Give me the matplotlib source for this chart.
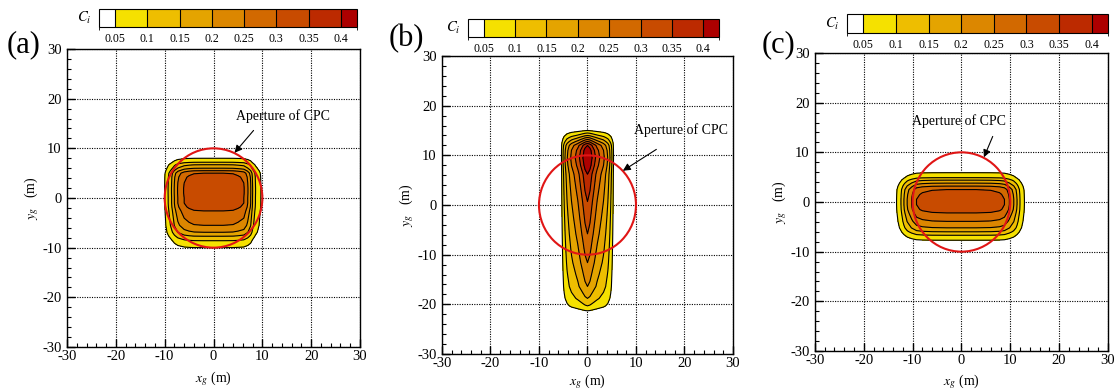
import matplotlib
matplotlib.use('Agg')
import matplotlib.pyplot as plt
import matplotlib as mpl
import numpy as np
from matplotlib.colors import ListedColormap, BoundaryNorm
from matplotlib.patches import Circle
from matplotlib.ticker import MultipleLocator

plt.rcParams['font.family'] = 'Liberation Serif'
plt.rcParams['mathtext.fontset'] = 'stix'
plt.rcParams['axes.unicode_minus'] = False

# contour levels of C_i and their fill colours
LEVELS = [0.05, 0.1, 0.15, 0.2, 0.25, 0.3, 0.35, 0.4]
COLORS = ['#f5e100', '#eebe00', '#e4a400', '#dc8700', '#d26900',
          '#c84b00', '#bc2a00', '#ad0000']
CBAR_TICKS = ['0.05', '0.1', '0.15', '0.2', '0.25', '0.3', '0.35', '0.4']

# (a) cross-stream profile (relative) and centreline concentration
xa_pts = [-30, -10.6, -10.0, -9.3, -8.6, -8.0, -7.3, -6.0, -5.0, -4.0, -2.0,
          0, 2.0, 4.0, 5.0, 6.2, 7.0, 7.6, 8.0, 8.6, 9.7, 10.2, 30]
xa_rel = [0, 0, 0.15, 0.30, 0.45, 0.61, 0.76, 0.91, 0.96, 0.99, 1.0,
          1.0, 1.0, 0.99, 0.96, 0.91, 0.76, 0.61, 0.45, 0.30, 0.15, 0, 0]
ya_pts = [-30, -10.6, -10.0, -8.6, -7.7, -6.9, -5.5, -2.6, -1.8, -1.0, 0,
          1.0, 2.0, 3.0, 4.2, 5.0, 5.5, 6.0, 6.7, 7.2, 8.0, 8.5, 30]
ya_conc = [0, 0, 0.05, 0.10, 0.15, 0.20, 0.25, 0.30, 0.32, 0.33, 0.33,
           0.335, 0.335, 0.33, 0.32, 0.30, 0.25, 0.20, 0.15, 0.10, 0.05, 0, 0]

# (b)
xb_pts = [-30, -5.6, -5.3, -4.8, -4.2, -3.3, -2.0, -1.0, -0.5, 0, 0.5, 1.0,
          2.0, 3.3, 4.2, 4.8, 5.3, 5.6, 30]
xb_rel = [0, 0, 0.14, 0.29, 0.43, 0.57, 0.71, 0.86, 0.95, 1.0, 0.95, 0.86,
          0.71, 0.57, 0.43, 0.29, 0.14, 0, 0]
yb_pts = [-30, -21.8, -21.3, -20.3, -18.8, -16.4, -14.0, -11.6, -8.7, -5.8,
          -2.5, 0.7, 3.5, 6.2, 8.0, 9.5, 11.0, 12.0, 12.4, 12.8, 13.2, 13.6,
          14.0, 14.5, 15.0, 15.4, 30]
yb_conc = [0, 0, 0.05, 0.10, 0.15, 0.20, 0.225, 0.25, 0.275, 0.30,
           0.325, 0.35, 0.375, 0.40, 0.44, 0.46, 0.44, 0.40, 0.35, 0.30, 0.25,
           0.20, 0.15, 0.10, 0.05, 0, 0]

# (c)
xc_pts = [-30, -13.6, -13.3, -12.4, -11.8, -11.1, -10.2, -9.2, -8.0, -6.0,
          -3.0, 0, 3.0, 6.0, 7.8, 8.8, 9.8, 10.7, 11.4, 12.0, 12.9, 13.2, 30]
xc_rel = [0, 0, 0.15, 0.30, 0.45, 0.61, 0.76, 0.91, 0.96, 0.99,
          1.0, 1.0, 1.0, 0.99, 0.96, 0.91, 0.76, 0.61, 0.45, 0.30, 0.15, 0, 0]
yc_pts = [-30, -8.2, -7.7, -6.7, -6.0, -5.2, -3.9, -2.2, -1.5, -0.5, 0.5,
          1.5, 2.5, 3.2, 3.8, 4.4, 4.9, 5.9, 6.2, 30]
yc_conc = [0, 0, 0.05, 0.10, 0.15, 0.20, 0.25, 0.30, 0.32, 0.33, 0.33,
           0.32, 0.30, 0.25, 0.20, 0.15, 0.10, 0.05, 0, 0]

APERTURE_R = 10.0

PANELS = [
    dict(tag='(a)', xs=xa_pts, xv=xa_rel, ys=ya_pts, yv=ya_conc,
         rect=[0.0600, 0.1148, 0.2623, 0.7602],
         cbar=[0.0886, 0.9311, 0.2310, 0.0459],
         tagpos=(0.006, 0.868), xpad=5,
         txt=(14.2, 15.0), tail=(8.2, 13.6), tip=(4.3, 9.1)),
    dict(tag='(b)', xs=xb_pts, xv=xb_rel, ys=yb_pts, yv=yb_conc,
         rect=[0.3957, 0.0969, 0.2605, 0.7602],
         cbar=[0.4190, 0.9056, 0.2247, 0.0459],
         tagpos=(0.348, 0.882), xpad=2,
         txt=(19.2, 13.6), tail=(14.2, 11.2), tip=(7.3, 6.9)),
    dict(tag='(c)', xs=xc_pts, xv=xc_rel, ys=yc_pts, yv=yc_conc,
         rect=[0.7296, 0.1046, 0.2623, 0.7602],
         cbar=[0.7583, 0.9158, 0.2337, 0.0485],
         tagpos=(0.682, 0.868), xpad=4,
         txt=(-0.5, 14.8), tail=(6.4, 13.2), tip=(4.6, 9.0)),
]

fig = plt.figure(figsize=(11.17, 3.92), dpi=100)

cmap = ListedColormap(['white'] + COLORS)
bounds = [0.025] + LEVELS + [0.425]
norm = BoundaryNorm(bounds, cmap.N)

for p in PANELS:
    ax = fig.add_axes(p['rect'])
    C = np.outer(p['yv'], p['xv'])
    ax.contourf(p['xs'], p['ys'], C, levels=LEVELS + [1.0], colors=COLORS,
                zorder=2)
    ax.contour(p['xs'], p['ys'], C, levels=LEVELS, colors='k',
               linewidths=0.8, zorder=3)
    ax.add_patch(Circle((0, 0), APERTURE_R, fill=False, ec='#e01515',
                        lw=1.5, zorder=5))
    ax.annotate('', xy=p['tip'], xytext=p['tail'],
                arrowprops=dict(arrowstyle='-|>', color='k', lw=0.8,
                                mutation_scale=11, shrinkA=0, shrinkB=0),
                zorder=6)
    ax.text(p['txt'][0], p['txt'][1], 'Aperture of CPC', fontsize=10,
            ha='center', va='bottom', zorder=6)

    ax.set_xlim(-30, 30)
    ax.set_ylim(-30, 30)
    ax.xaxis.set_major_locator(MultipleLocator(10))
    ax.yaxis.set_major_locator(MultipleLocator(10))
    ax.xaxis.set_minor_locator(MultipleLocator(2))
    ax.yaxis.set_minor_locator(MultipleLocator(2))
    ax.tick_params(which='both', direction='in', top=False, right=False,
                   labelsize=10.5, pad=2)
    ax.tick_params(axis='y', which='both', pad=4)
    ax.tick_params(which='major', length=6, width=1)
    ax.tick_params(which='minor', length=3, width=0.8)
    ax.grid(True, which='major', color='k', linestyle=(0, (1, 1.2)),
            linewidth=0.8, zorder=1)
    ax.set_axisbelow(True)
    for s in ax.spines.values():
        s.set_linewidth(1.0)
    ax.set_xlabel(r'$x_g$ (m)', fontsize=10, labelpad=p['xpad'])
    ax.set_ylabel(r'$y_g$   (m)', fontsize=10, labelpad=1)

    fig.text(p['tagpos'][0], p['tagpos'][1], p['tag'], fontsize=22)

    cax = fig.add_axes(p['cbar'])
    cb = mpl.colorbar.ColorbarBase(cax, cmap=cmap, norm=norm,
                                   boundaries=bounds, ticks=LEVELS,
                                   spacing='proportional',
                                   orientation='horizontal', drawedges=True)
    cb.dividers.set_color('k')
    cb.dividers.set_linewidth(0.8)
    cb.outline.set_linewidth(0.8)
    cb.ax.set_xticklabels(CBAR_TICKS)
    cb.ax.tick_params(length=0, labelsize=8.5, pad=4)
    cax.text(-0.03, 0.5, r'$C_i$', transform=cax.transAxes, fontsize=10.5,
             ha='right', va='center')

fig.savefig('out.png', dpi=100)
